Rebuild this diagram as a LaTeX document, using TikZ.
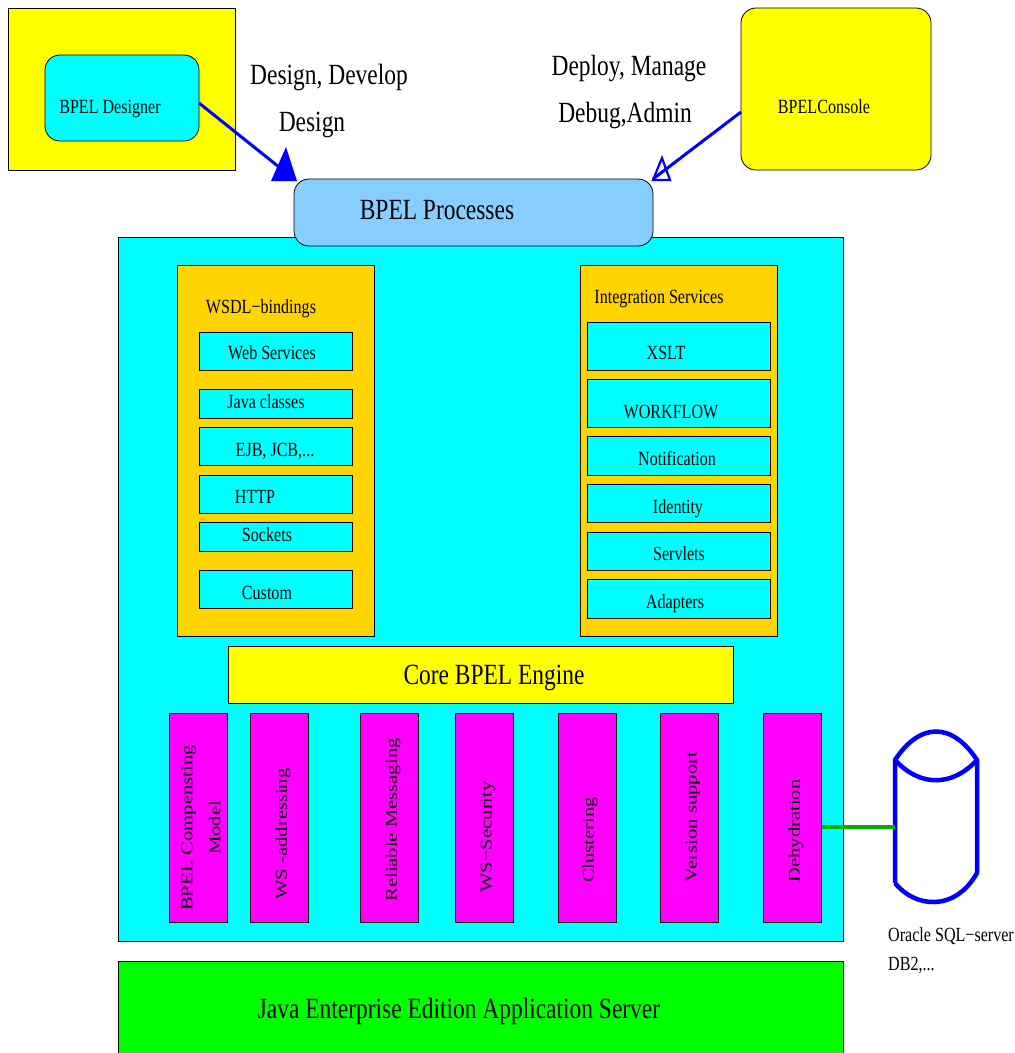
\documentclass[tikz,border=0pt]{standalone}
\usepackage{xcolor,tikz,fontspec}
\usetikzlibrary{arrows.meta,positioning,calc}
\newfontfamily\condfont[FakeStretch=0.8]{Liberation Serif}
\newfontfamily\widefont[FakeStretch=1.25]{Liberation Serif}
\definecolor{sky}{RGB}{135,206,255}
\definecolor{gold}{RGB}{255,212,0}
\definecolor{pure}{RGB}{0,0,255}
\definecolor{lime}{RGB}{0,255,0}
\definecolor{link}{RGB}{0,176,0}
\definecolor{aqua}{RGB}{0,255,255}
\definecolor{lemon}{RGB}{255,255,0}
\definecolor{pink}{RGB}{255,0,255}
\tikzset{
  box/.style={draw=black,line width=0.8pt,inner sep=0pt,outer sep=0pt},
  plain/.style={box,fill=lemon},
  round/.style={box,rounded corners=15pt},
  svc/.style={box,fill=aqua,minimum width=153.4},
  intg/.style={box,fill=aqua,minimum width=183.4},
  cont/.style={box,fill=gold,minimum width=197.4,minimum height=371},
  feat/.style={box,fill=pink,minimum width=58.4,minimum height=209},
  lab/.style={inner sep=0pt,font=\condfont\fontsize{20.1}{24}\selectfont},
  biglab/.style={inner sep=0pt,font=\condfont\fontsize{29.3}{34}\selectfont},
  vlab/.style={inner sep=0pt,rotate=90,align=center,font=\widefont\fontsize{16.5}{28}\selectfont},
  flow/.style={draw=pure,line width=3pt},
  can/.style={draw=pure,line width=4.5pt,line join=round}
}
\begin{document}
\begin{tikzpicture}[x=1pt,y=-1pt]
  \useasboundingbox (0,0) rectangle (1015,1053);
  % tools on top
  \node[plain,minimum width=227.4,minimum height=162] (designerbg) at (122,89) {};
  \node[round,fill=aqua,minimum width=154,minimum height=86] (designer) at (122,98) {};
  \node[lab] (designerT) at (110,109) {BPEL Designer};
  \node[round,fill=lemon,minimum width=190,minimum height=162] (console) at (836,89) {};
  \node[lab] (consoleT) at (824,107) {BPELConsole};
  \node[biglab] (designA) at (329,77) {Design, Develop};
  \node[biglab] (designB) at (312,125) {Design};
  \node[biglab] (deployA) at (629,68) {Deploy, Manage};
  \node[biglab] (deployB) at (625,115) {Debug,Admin};

  % server body
  \node[box,fill=aqua,minimum width=725.4,minimum height=704] (server) at (481,589) {};
  \node[round,fill=sky,minimum width=359,minimum height=67] (procs) at (473.5,212.5) {};
  \node[biglab] (procsT) at (437,210) {BPEL Processes};

  \draw[flow] ($(designer.east)+(0,5)$) -- (procs.north west);
  \fill[pure] (271,181) -- (286,147) -- (297,181) -- cycle;
  \draw[flow] ($(console.west)+(0,23)$) -- (procs.north east);
  \draw[pure,line width=2.2pt] (653,180) -- (662,158) -- (670,180) -- cycle;

  % bindings
  \node[cont] (wsdl) at (276,450.5) {};
  \node[lab] (wsdlT) at (261,309) {WSDL−bindings};
  \node[svc,minimum height=38] (ws) at (276,351) {};
  \node[lab] (wsT) at (272,353) {Web Services};
  \node[svc,minimum height=29] (java) at (276,403.5) {};
  \node[lab] (javaT) at (266,402) {Java classes};
  \node[svc,minimum height=38] (ejb) at (276,446) {};
  \node[lab] (ejbT) at (275,451) {EJB, JCB,...};
  \node[svc,minimum height=38] (http) at (276,494) {};
  \node[lab] (httpT) at (255,497) {HTTP};
  \node[svc,minimum height=29] (sockets) at (276,536.5) {};
  \node[lab] (socketsT) at (267,535) {Sockets};
  \node[svc,minimum height=38] (custom) at (276,589) {};
  \node[lab] (customT) at (267,593) {Custom};

  % integration services
  \node[cont] (integ) at (679,450.5) {};
  \node[lab] (integT) at (659,299) {Integration Services};
  \node[intg,minimum height=48] (xslt) at (679,346) {};
  \node[lab] (xsltT) at (666,353) {XSLT};
  \node[intg,minimum height=48] (workflow) at (679,403) {};
  \node[lab] (workflowT) at (671,412) {WORKFLOW};
  \node[intg,minimum height=39] (notif) at (679,455.5) {};
  \node[lab] (notifT) at (677,459) {Notification};
  \node[intg,minimum height=38] (ident) at (679,503) {};
  \node[lab] (identT) at (678,509) {Identity};
  \node[intg,minimum height=38] (servlets) at (679,551) {};
  \node[lab] (servletsT) at (679,554) {Servlets};
  \node[intg,minimum height=39] (adapters) at (679,598.5) {};
  \node[lab] (adaptersT) at (675,604) {Adapters};

  \node[plain,minimum width=505.4,minimum height=57] (core) at (481,674.5) {};
  \node[biglab] (coreT) at (494,678) {Core BPEL Engine};

  % feature columns
  \node[feat] (comp) at (198.5,817.5) {};
  \node[vlab] (compT) at (201,828) {BPEL Compensting\\Model};
  \node[feat] (addr) at (279.5,817.5) {};
  \node[vlab] (addrT) at (283,834) {WS -addressing};
  \node[feat] (reliable) at (389.5,817.5) {};
  \node[vlab] (reliableT) at (393,820) {Reliable Messaging};
  \node[feat] (secur) at (484.5,817.5) {};
  \node[vlab] (securT) at (488,837) {WS−Security};
  \node[feat] (cluster) at (587.5,817.5) {};
  \node[vlab] (clusterT) at (590,840) {Clustering};
  \node[feat] (version) at (689.5,817.5) {};
  \node[vlab] (versionT) at (693,817) {Version support};
  \node[feat] (dehyd) at (792.5,817.5) {};
  \node[vlab] (dehydT) at (796,831) {Dehydration};

  \node[box,fill=lime,minimum width=725.4,minimum height=98] (appsrv) at (481,1010) {};
  \node[biglab] (appsrvT) at (459,1011) {Java Enterprise Edition Application Server};

  % database
  \coordinate (dbport) at (895,827);
  \draw[can] (895,883) -- (895,760) .. controls (920,722) and (952,722) .. (977,760) -- (977,873)
    .. controls (955,912) and (915,908) .. (895,883);
  \draw[can] (895,760) .. controls (920,787) and (952,787) .. (977,760);
  \draw[link,line width=3.5pt] (dehyd.east |- dbport) -- (dbport);
  \node[lab] (oracle) at (951,936) {Oracle SQL−server};
  \node[lab,right] (dbtwo) at (888,965) {DB2,...};
\end{tikzpicture}
\end{document}
